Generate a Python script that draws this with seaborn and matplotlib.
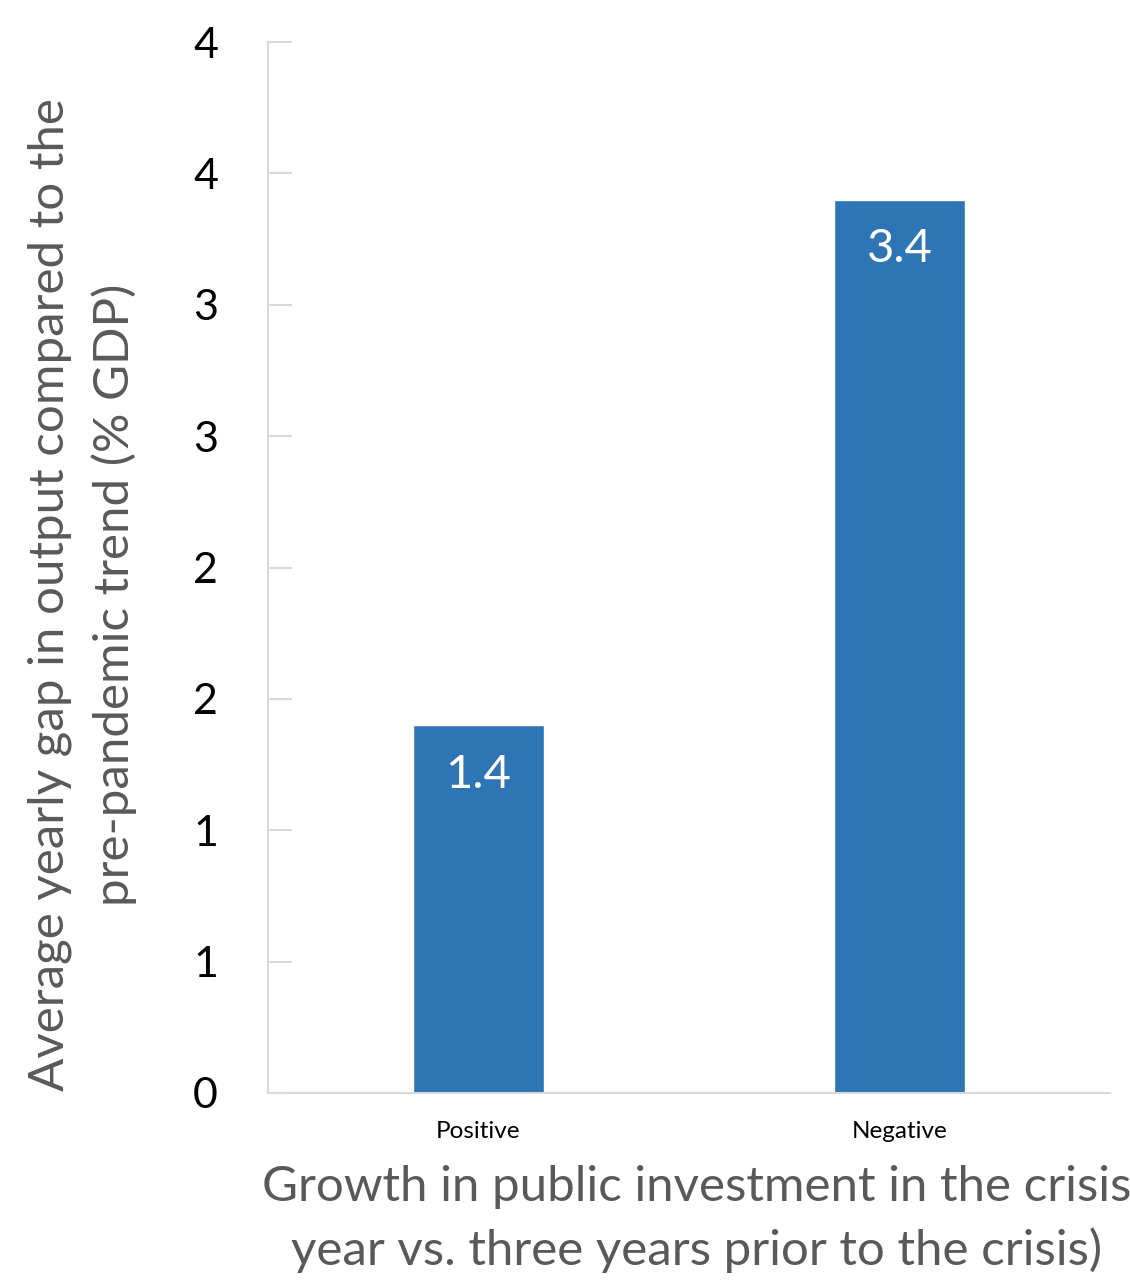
import matplotlib
matplotlib.use("Agg")
import matplotlib.pyplot as plt
import seaborn as sns
import pandas as pd
import numpy as np

# data
categories = ["Positive", "Negative"]
gap_values = [1.4, 3.4]
y_ticks = [0, 0.5, 1, 1.5, 2, 2.5, 3, 3.5, 4]
y_tick_labels = ["0", "1", "1", "2", "2", "3", "3", "4", "4"]

sns.set_style("white")
plt.rcParams["font.family"] = ["Lato", "DejaVu Sans"]

df = pd.DataFrame({"category": categories, "gap": gap_values})

fig = plt.figure(figsize=(11.3, 12.85), dpi=100)
ax = fig.add_axes([268 / 1130, 1 - 1093 / 1285, 842 / 1130, 1051 / 1285])

sns.barplot(data=df, x="category", y="gap", color="#2E75B6", width=0.313,
            saturation=1, ax=ax)

ax.set_xlim(-0.5, 1.5)
ax.set_ylim(0, 4)
ax.set_yticks(y_ticks)
ax.set_yticklabels(y_tick_labels)

ax.tick_params(axis="y", left=True, direction="in", length=17, width=1.5,
               color="#d9d9d9", labelsize=31, labelcolor="black", pad=36)
ax.tick_params(axis="x", bottom=False, length=0, labelsize=17.5,
               labelcolor="black", pad=20)

for side in ["top", "right"]:
    ax.spines[side].set_visible(False)
for side in ["left", "bottom"]:
    ax.spines[side].set_color("#d9d9d9")
    ax.spines[side].set_linewidth(1.5)

for cont in ax.containers:
    ax.bar_label(cont, labels=[f"{v:.1f}" for v in gap_values],
                 padding=-51, color="white", fontsize=34)

ax.set_xlabel("")
ax.set_ylabel("")

fig.text(82 / 1130, 1 - 595 / 1285,
         "Average yearly gap in output compared to the\npre-pandemic trend (% GDP)",
         rotation=90, ha="center", va="center", fontsize=35.5, color="#595959",
         linespacing=1.5)
fig.text(697 / 1130, 1 - 1219 / 1285,
         "Growth in public investment in the crisis\nyear vs. three years prior to the crisis)",
         ha="center", va="center", fontsize=35.5, color="#595959",
         linespacing=1.5)

fig.savefig("out.png", dpi=100)
